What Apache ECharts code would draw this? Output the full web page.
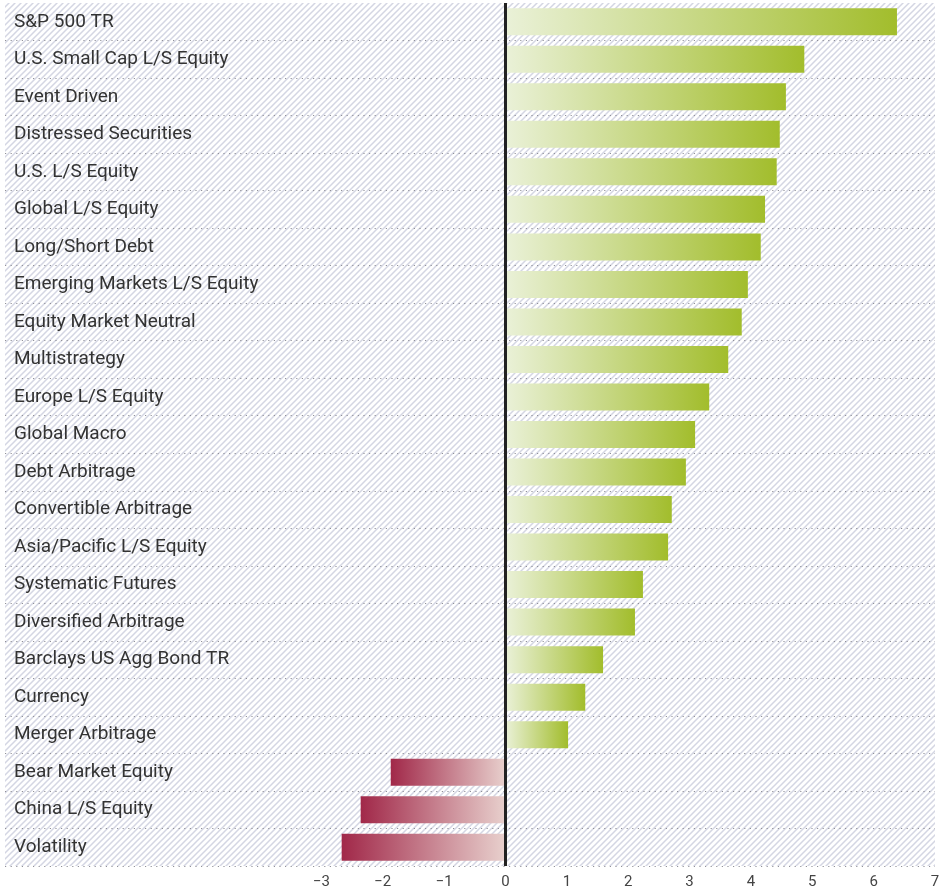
<!DOCTYPE html>
<html>
<head>
<meta charset="utf-8">
<script src="https://cdn.jsdelivr.net/npm/echarts@6/dist/echarts.min.js"></script>
<style>
  html, body { margin: 0; padding: 0; background: #fff; }
  #chart { width: 946px; height: 890px; }
</style>
</head>
<body>
<div id="chart"></div>
<script>
// Strategy names, top to bottom
const categories = [
  'S&P 500 TR', 'U.S. Small Cap L/S Equity', 'Event Driven', 'Distressed Securities',
  'U.S. L/S Equity', 'Global L/S Equity', 'Long/Short Debt', 'Emerging Markets L/S Equity',
  'Equity Market Neutral', 'Multistrategy', 'Europe L/S Equity', 'Global Macro',
  'Debt Arbitrage', 'Convertible Arbitrage', 'Asia/Pacific L/S Equity', 'Systematic Futures',
  'Diversified Arbitrage', 'Barclays US Agg Bond TR', 'Currency', 'Merger Arbitrage',
  'Bear Market Equity', 'China L/S Equity', 'Volatility'
];
// Annualized return (%) for each strategy
const returns = [
  6.38, 4.87, 4.57, 4.47, 4.42, 4.23, 4.16, 3.95, 3.85, 3.63, 3.32, 3.09,
  2.94, 2.71, 2.65, 2.24, 2.11, 1.59, 1.30, 1.02, -1.87, -2.36, -2.67
];
// Labelled ticks on the value axis
const tickValues = [-3, -2, -1, 0, 1, 2, 3, 4, 5, 6, 7];

// Diagonal hatch tile for the plot background
function hatchTile() {
  const c = document.createElement('canvas');
  c.width = 6; c.height = 6;
  const g = c.getContext('2d');
  g.strokeStyle = '#d4d6e3';
  g.lineWidth = 1.5;
  g.beginPath();
  g.moveTo(-1, 7); g.lineTo(7, -1);
  g.moveTo(-4, 4); g.lineTo(4, -4);
  g.moveTo(2, 10); g.lineTo(10, 2);
  g.stroke();
  return c;
}

const greenFill = {
  type: 'linear', x: 0, y: 0, x2: 1, y2: 0,
  colorStops: [{ offset: 0, color: '#eaf1d8' }, { offset: 1, color: '#a2bd2c' }]
};
const redFill = {
  type: 'linear', x: 0, y: 0, x2: 1, y2: 0,
  colorStops: [{ offset: 0, color: '#a12849' }, { offset: 1, color: '#e8d0cd' }]
};

const chart = echarts.init(document.getElementById('chart'), null, { renderer: 'canvas' });
chart.setOption({
  animation: false,
  grid: {
    left: 5, right: 11, top: 3, bottom: 24,
    show: true, borderWidth: 0,
    backgroundColor: { image: hatchTile(), repeat: 'repeat' }
  },
  xAxis: {
    type: 'value',
    min: -8.157, max: 7,
    axisLine: { show: false },
    axisTick: { show: false },
    splitLine: { show: false },
    axisLabel: {
      customValues: tickValues,
      margin: 9,
      color: '#444',
      fontFamily: 'Roboto, sans-serif',
      fontSize: 15,
      formatter: v => (v < 0 ? '\u2212' + Math.abs(v) : String(v))
    }
  },
  yAxis: {
    type: 'category',
    data: categories,
    inverse: true,
    axisLine: { show: false, onZero: false },
    axisTick: { show: false },
    splitLine: {
      show: true,
      // separators between rows only, not above the first one
      interval: i => i > 0,
      lineStyle: { color: '#909098', width: 1, type: [1.2, 4.4] }
    },
    axisLabel: {
      inside: true,
      margin: 9,
      color: '#333',
      fontFamily: 'Roboto, sans-serif',
      fontSize: 19
    }
  },
  series: [{
    type: 'bar',
    barWidth: 27,
    data: returns.map(v => ({
      value: v,
      itemStyle: { color: v >= 0 ? greenFill : redFill }
    })),
    markLine: {
      silent: true,
      symbol: 'none',
      label: { show: false },
      lineStyle: { color: '#222', width: 3, type: 'solid' },
      data: [{ xAxis: 0 }]
    }
  }]
});
</script>
</body>
</html>
